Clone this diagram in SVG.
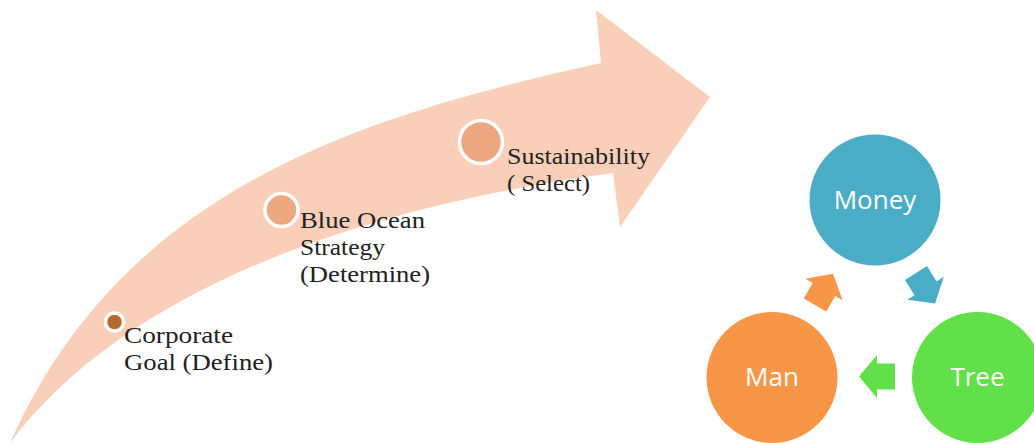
<svg xmlns="http://www.w3.org/2000/svg" width="1034" height="443" viewBox="0 0 1034 443">
  <style>
    .lbl { font-family: "Liberation Serif", "DejaVu Serif", serif; font-size: 24px; fill: #222222; }
    .cyc { font-family: "Open Sans", "Liberation Sans", sans-serif; font-size: 26px; fill: #ffffff; text-anchor: middle; }
    .mark { stroke: #ffffff; stroke-width: 3.5; }
  </style>
  <defs>
    <!-- block arrow pointing along +x, base at origin -->
    <polygon id="blk" points="0,-13 18,-13 18,-21.5 36,0 18,21.5 18,13 0,13"/>
  </defs>

  <!-- big curved arrow -->
  <g id="path-arrow">
    <path fill="#FACFBA" d="M10,443 C122,191 355,117 601,63 L596,10 L710,97 L620,227 L613,173 C368,206 128,286 10,443 Z"/>
  </g>

  <!-- milestones along the arrow -->
  <g id="corporate-goal">
    <circle class="mark" cx="114.5" cy="322" r="9" fill="#B4692F"/>
    <text class="lbl"><tspan x="124" y="343" textLength="109" lengthAdjust="spacingAndGlyphs">Corporate</tspan><tspan x="124" y="370" textLength="149" lengthAdjust="spacingAndGlyphs">Goal (Define)</tspan></text>
  </g>
  <g id="blue-ocean">
    <circle class="mark" cx="281.5" cy="210" r="16.5" fill="#EDA882"/>
    <text class="lbl"><tspan x="300" y="228" textLength="125" lengthAdjust="spacingAndGlyphs">Blue Ocean</tspan><tspan x="300" y="255" textLength="85" lengthAdjust="spacingAndGlyphs">Strategy</tspan><tspan x="300" y="282" textLength="130" lengthAdjust="spacingAndGlyphs">(Determine)</tspan></text>
  </g>
  <g id="sustainability">
    <circle class="mark" cx="481" cy="142" r="21.5" fill="#EDA882"/>
    <text class="lbl"><tspan x="507" y="164" textLength="143" lengthAdjust="spacingAndGlyphs">Sustainability</tspan><tspan x="507" y="191" textLength="83" lengthAdjust="spacingAndGlyphs">( Select)</tspan></text>
  </g>

  <!-- cycle nodes -->
  <g id="money">
    <circle cx="875" cy="200" r="65.5" fill="#4BACC6"/>
    <text class="cyc" x="875" y="209">Money</text>
  </g>
  <g id="man">
    <circle cx="772" cy="377.5" r="65.5" fill="#F79646"/>
    <text class="cyc" x="772" y="386">Man</text>
  </g>
  <g id="tree">
    <circle cx="977.5" cy="377.5" r="65.5" fill="#62E04A"/>
    <text class="cyc" x="977.5" y="386">Tree</text>
  </g>

  <!-- cycle connectors -->
  <g id="connectors">
    <use href="#blk" fill="#F79646" transform="translate(815,305) rotate(-60)"/>
    <use href="#blk" fill="#4BACC6" transform="translate(916,273) rotate(58)"/>
    <use href="#blk" fill="#62E04A" transform="translate(895,376.5) rotate(180)"/>
  </g>
</svg>
